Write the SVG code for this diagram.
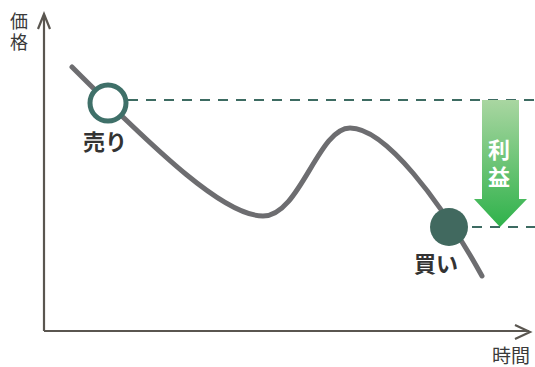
<svg xmlns="http://www.w3.org/2000/svg" width="535" height="367" viewBox="0 0 535 367">
<defs>
<style>
.axis{fill:none;stroke:#5a5650;stroke-width:2.2}
.curve{fill:none;stroke:#6d6d70;stroke-width:5;stroke-linecap:round}
.dash{fill:none;stroke:#3d6b62;stroke-width:2;stroke-dasharray:10 8}
.lbl{font-family:"Noto Sans CJK JP","Noto Sans",sans-serif;fill:#333}
.big{font-size:22px;font-weight:bold}
.sm{font-size:18px;fill:#3a3a3a}
.vert{writing-mode:vertical-rl}
</style>
<linearGradient id="g" x1="0" y1="0" x2="0" y2="1">
<stop offset="0" stop-color="#a9d6a1"/>
<stop offset="1" stop-color="#2fb24b"/>
</linearGradient>
</defs>
<g id="axes">
<path class="axis" d="M44,331 V15 M38,29 L44,14 L50,29"/>
<path class="axis" d="M44,331 H529 M515,325 L530,332 L515,339"/>
</g>
<g id="connectors">
<path class="dash" d="M128,100 H535"/>
<path class="dash" d="M472,227 H535"/>
<path class="curve" d="M72,67 C160,155 225,216 263,216 C300,216 318,128 350,128 C385,128 440,200 482,276"/>
</g>
<g id="profit">
<path d="M482,100 H519 V199 H527 L500,227 L474,199 H482 Z" fill="url(#g)"/>
<text class="lbl big vert" x="499" y="139" style="fill:#fff;letter-spacing:5px">利益</text>
</g>
<g id="sell">
<circle cx="108" cy="103" r="18" fill="#fff" stroke="#3f7069" stroke-width="5"/>
<text class="lbl big" x="83" y="150">売り</text>
</g>
<g id="buy">
<circle cx="449" cy="227" r="19" fill="#41695f"/>
<text class="lbl big" x="414" y="272">買い</text>
</g>
<g id="labels">
<text class="lbl sm vert" x="19" y="12" style="letter-spacing:3px">価格</text>
<text class="lbl sm" x="492" y="363" style="font-size:19px">時間</text>
</g>
</svg>
